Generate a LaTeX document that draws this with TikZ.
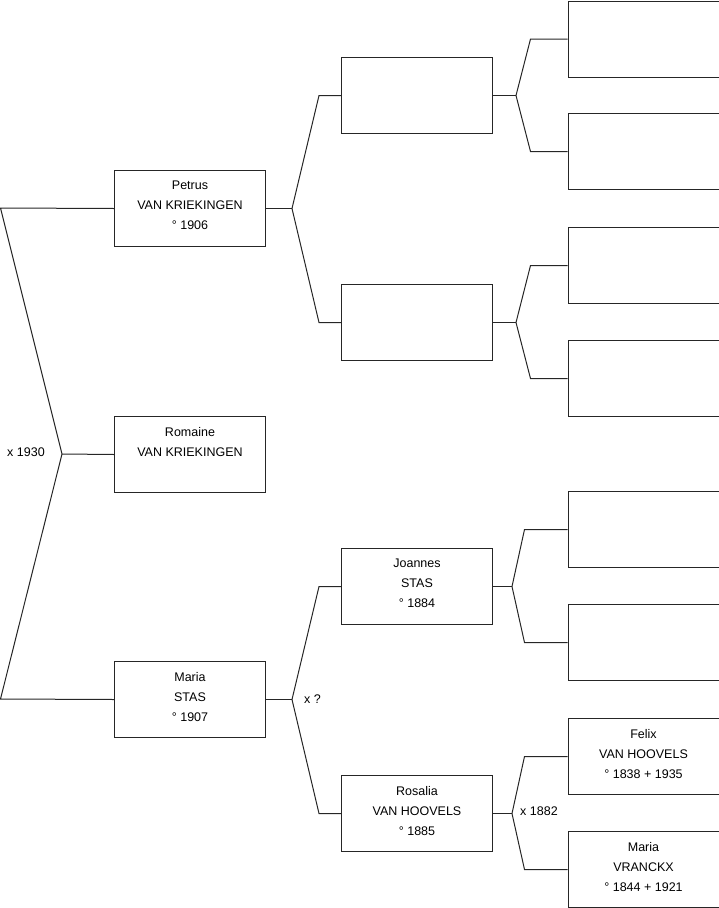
\documentclass[tikz,border=0pt]{standalone}
\usepackage{fontspec}
\setmainfont{Liberation Sans}
\usetikzlibrary{calc}
\begin{document}
\begin{tikzpicture}[x=1pt,y=-1pt,
  person/.style={draw=black!85,line width=1pt,minimum width=151pt,minimum height=76pt,inner sep=0pt,anchor=north west},
  ptext/.style={align=center,anchor=north,inner sep=0pt,font=\fontsize{12.5}{20}\selectfont},
  conn/.style={draw=black!85,line width=1pt},
  lbl/.style={anchor=base west,inner sep=0pt,font=\fontsize{12.5}{15}\selectfont}]
\useasboundingbox (0,0) rectangle (719,908);
% column 1
\node[person] (petrus) at (114,170) {};
\node[person] (romaine) at (114,416) {};
\node[person] (maria) at (114,661) {};
% column 2
\node[person] (pa) at (341,57) {};
\node[person] (pb) at (341,284) {};
\node[person] (joannes) at (341,548) {};
\node[person] (rosalia) at (341,775) {};
% column 3
\node[person] (c1) at (567.5,0.5) {};
\node[person] (c2) at (567.5,113) {};
\node[person] (c3) at (567.5,227) {};
\node[person] (c4) at (567.5,340) {};
\node[person] (c5) at (567.5,491) {};
\node[person] (c6) at (567.5,604) {};
\node[person] (c7) at (567.5,718) {};
\node[person] (c8) at (567.5,831) {};
% texts
\node[ptext] (tpetrus) at ([yshift=-11pt]petrus.north) {Petrus\\VAN KRIEKINGEN\\° 1906};
\node[ptext] (tromaine) at ([yshift=-11pt]romaine.north) {Romaine\\VAN KRIEKINGEN};
\node[ptext] (tmaria) at ([yshift=-11pt]maria.north) {Maria\\STAS\\° 1907};
\node[ptext] (tjoannes) at ([yshift=-11pt]joannes.north) {Joannes\\STAS\\° 1884};
\node[ptext] (trosalia) at ([yshift=-11pt]rosalia.north) {Rosalia\\VAN HOOVELS\\° 1885};
\node[ptext] (tfelix) at ([yshift=-11pt]c7.north) {Felix\\VAN HOOVELS\\° 1838 + 1935};
\node[ptext] (tmaria2) at ([yshift=-11pt]c8.north) {Maria\\VRANCKX\\° 1844 + 1921};
% root connectors
\coordinate (r1) at (0.5,208);
\coordinate (r2) at (0.5,699);
\coordinate (j0) at (62,454);
\draw[conn] (petrus.west) -- (r1) -- (j0) -- (r2) -- (maria.west);
\draw[conn] (j0) -- (romaine.west);
\node[lbl] (x1930) at (7,456) {x 1930};
% level 2
\draw[conn] (petrus.east) -- ++(26,0) coordinate (j1);
\draw[conn] (j1) -- ([xshift=-22pt]pa.west) -- (pa.west);
\draw[conn] (j1) -- ([xshift=-22pt]pb.west) -- (pb.west);
\draw[conn] (maria.east) -- ++(26,0) coordinate (j2);
\draw[conn] (j2) -- ([xshift=-22pt]joannes.west) -- (joannes.west);
\draw[conn] (j2) -- ([xshift=-22pt]rosalia.west) -- (rosalia.west);
\node[lbl] (xq) at (304,703) {x ?};
% level 3
\draw[conn] (pa.east) -- ++(23,0) coordinate (j3);
\draw[conn] (j3) -- ([xshift=-37pt]c1.west) -- (c1.west);
\draw[conn] (j3) -- ([xshift=-37pt]c2.west) -- (c2.west);
\draw[conn] (pb.east) -- ++(23,0) coordinate (j4);
\draw[conn] (j4) -- ([xshift=-37pt]c3.west) -- (c3.west);
\draw[conn] (j4) -- ([xshift=-37pt]c4.west) -- (c4.west);
\draw[conn] (joannes.east) -- ++(19,0) coordinate (j5);
\draw[conn] (j5) -- ([xshift=-43pt]c5.west) -- (c5.west);
\draw[conn] (j5) -- ([xshift=-43pt]c6.west) -- (c6.west);
\draw[conn] (rosalia.east) -- ++(19,0) coordinate (j6);
\draw[conn] (j6) -- ([xshift=-43pt]c7.west) -- (c7.west);
\draw[conn] (j6) -- ([xshift=-43pt]c8.west) -- (c8.west);
\node[lbl] (x1882) at (520,815) {x 1882};
\end{tikzpicture}
\end{document}
